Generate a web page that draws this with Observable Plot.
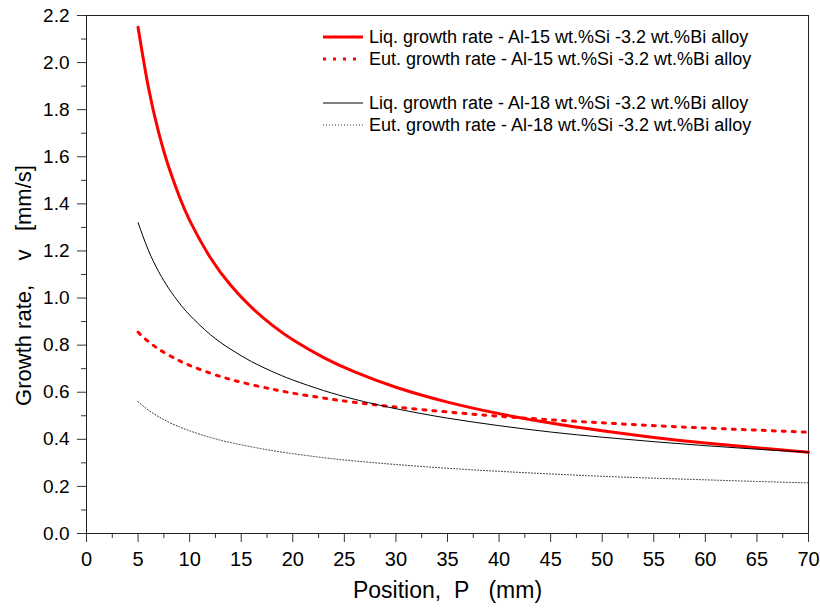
<!DOCTYPE html>
<html>
<head>
<meta charset="utf-8">
<script src="https://cdn.jsdelivr.net/npm/d3@7"></script>
<script src="https://cdn.jsdelivr.net/npm/@observablehq/plot@0.6"></script>
<style>
  html, body { margin: 0; padding: 0; background: #fff; }
  #wrap { position: relative; width: 820px; height: 609px; font-family: "Liberation Sans", Arial, sans-serif; }
  #legend { position: absolute; left: 321px; top: 26px; font-size: 18px; color: #000; }
  .row { display: flex; align-items: center; height: 22px; white-space: nowrap; }
  .row svg { width: 48px; height: 22px; flex: none; }
  .gap { height: 22px; }
</style>
</head>
<body>
<div id="wrap"><div id="legend"></div></div>
<script>
// Position P (mm)
const positions = [5, 6, 7, 8, 9, 10, 12, 14, 16, 18, 20, 23, 26, 30, 35, 40, 45, 50, 55, 60, 65, 70];
// Liquidus growth rate, Al-15 wt.%Si -3.2 wt.%Bi
const liq15 = [2.15, 1.895, 1.703, 1.553, 1.431, 1.330, 1.172, 1.053, 0.960, 0.885, 0.823, 0.747, 0.686, 0.621, 0.558, 0.509, 0.469, 0.436, 0.408, 0.384, 0.364, 0.345];
// Eutectic growth rate, Al-15 wt.%Si -3.2 wt.%Bi
const eut15 = [0.855, 0.815, 0.783, 0.757, 0.734, 0.714, 0.681, 0.654, 0.632, 0.613, 0.596, 0.575, 0.557, 0.537, 0.516, 0.498, 0.483, 0.470, 0.458, 0.448, 0.439, 0.430];
// Liquidus growth rate, Al-18 wt.%Si -3.2 wt.%Bi
const liq18 = [1.32, 1.203, 1.112, 1.039, 0.979, 0.928, 0.845, 0.782, 0.730, 0.688, 0.652, 0.607, 0.570, 0.530, 0.490, 0.458, 0.431, 0.409, 0.390, 0.373, 0.358, 0.345];
// Eutectic growth rate, Al-18 wt.%Si -3.2 wt.%Bi
const eut18 = [0.56, 0.524, 0.496, 0.472, 0.453, 0.436, 0.408, 0.386, 0.368, 0.352, 0.339, 0.322, 0.308, 0.293, 0.277, 0.264, 0.253, 0.243, 0.235, 0.228, 0.221, 0.215];

const seriesNames = [
  "Liq. growth rate - Al-15 wt.%Si -3.2 wt.%Bi alloy",
  "Eut. growth rate - Al-15 wt.%Si -3.2 wt.%Bi alloy",
  "Liq. growth rate - Al-18 wt.%Si -3.2 wt.%Bi alloy",
  "Eut. growth rate - Al-18 wt.%Si -3.2 wt.%Bi alloy"
];
const xTicks = [0, 5, 10, 15, 20, 25, 30, 35, 40, 45, 50, 55, 60, 65, 70];
const xMinorTicks = [2.5, 7.5, 12.5, 17.5, 22.5, 27.5, 32.5, 37.5, 42.5, 47.5, 52.5, 57.5, 62.5, 67.5];
const yTicks = [0.0, 0.2, 0.4, 0.6, 0.8, 1.0, 1.2, 1.4, 1.6, 1.8, 2.0, 2.2];
const yMinorTicks = [0.1, 0.3, 0.5, 0.7, 0.9, 1.1, 1.3, 1.5, 1.7, 1.9, 2.1];
const xTitle = "Position,\u00a0\u00a0P\u00a0\u00a0\u00a0(mm)";
const yTitle = "Growth rate,\u00a0\u00a0\u00a0\u00a0v\u00a0\u00a0\u00a0[mm/s]";

const styles = [
  {stroke: "#ff0000", strokeWidth: 3, dash: null},
  {stroke: "#ff0000", strokeWidth: 3, dash: "3,7"},
  {stroke: "#000000", strokeWidth: 1, dash: null},
  {stroke: "#333333", strokeWidth: 1, dash: "1,2"}
];
const allSeries = [liq15, eut15, liq18, eut18];
const rows = allSeries.map((vals, s) => positions.map((p, i) => ({P: p, v: vals[i], s})));

const lineMarks = rows.map((data, s) => Plot.line(data, {
  x: "P", y: "v", curve: "natural",
  stroke: styles[s].stroke, strokeWidth: styles[s].strokeWidth,
  strokeDasharray: styles[s].dash
}));

const chart = Plot.plot({
  width: 820, height: 609,
  marginLeft: 86, marginRight: 12, marginTop: 15, marginBottom: 76,
  style: {fontFamily: "Liberation Sans, Arial, sans-serif", color: "#000", background: "#fff", overflow: "visible"},
  x: {domain: [0, 70]},
  y: {domain: [0, 2.2]},
  marks: [
    Plot.axisY({ticks: yMinorTicks, tickSize: 5, text: null, label: null, stroke: "#333"}),
    Plot.axisY({ticks: yTicks, tickSize: 9, tickPadding: 8, tickFormat: d3.format(".1f"), fontSize: 19, label: null, stroke: "#333"}),
    Plot.axisX({ticks: xMinorTicks, tickSize: 5, text: null, label: null, stroke: "#333"}),
    Plot.axisX({ticks: xTicks, tickSize: 9, tickPadding: 9, fontSize: 20, label: null, stroke: "#333"}),
    Plot.frame({stroke: "#222"}),
    ...lineMarks,
    Plot.text([yTitle], {frameAnchor: "left", textAnchor: "middle", rotate: -90, dx: -63, dy: 11, fontSize: 22}),
    Plot.text([xTitle], {frameAnchor: "bottom", textAnchor: "middle", dy: 64, fontSize: 23})
  ]
});
document.getElementById("wrap").prepend(chart);

// Legend (inside the plot area, upper right)
const legend = document.getElementById("legend");
seriesNames.forEach((name, s) => {
  if (s === 2) { const g = document.createElement("div"); g.className = "gap"; legend.appendChild(g); }
  const row = document.createElement("div");
  row.className = "row";
  const st = styles[s];
  row.innerHTML = `<svg><line x1="2" x2="42" y1="11" y2="11" stroke="${st.stroke}" stroke-width="${st.strokeWidth}" ${st.dash ? `stroke-dasharray="${st.dash}"` : ""}/></svg><span>${name}</span>`;
  legend.appendChild(row);
});
</script>
</body>
</html>
